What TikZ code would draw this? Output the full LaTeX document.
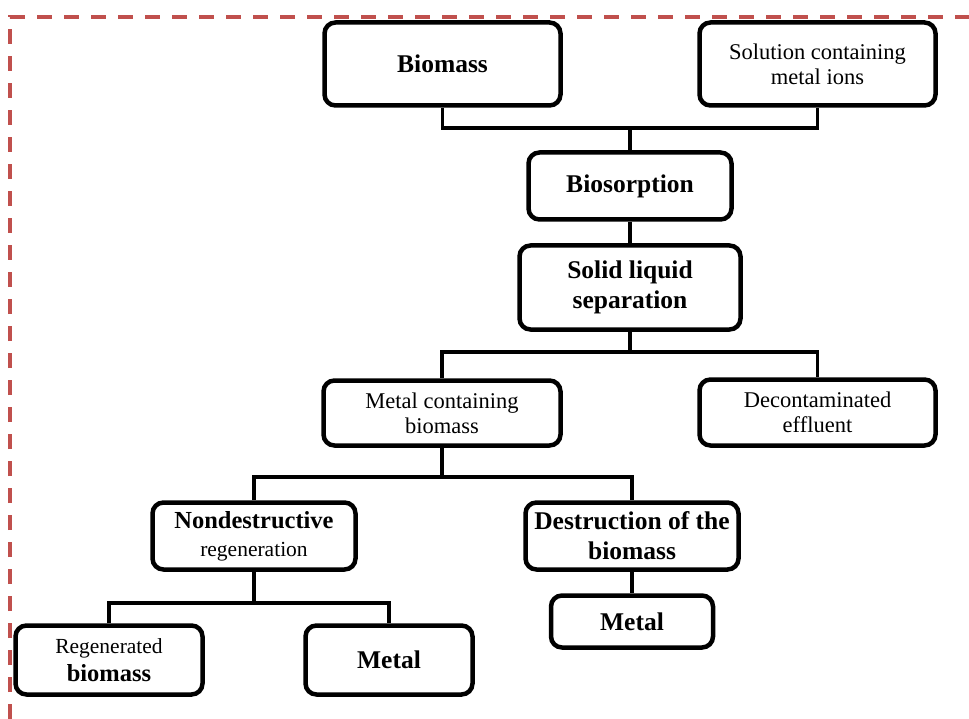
\documentclass[tikz,border=0pt]{standalone}
\usepackage{fontspec}
\setmainfont{Liberation Serif}
\begin{document}
\definecolor{dashred}{RGB}{192,80,77}
\begin{tikzpicture}[x=1pt,y=-1pt,
  box/.style={draw, line width=4.5pt, rounded corners=11pt, align=center, inner sep=0pt, fill=white},
  bt/.style={font=\fontsize{25.5}{30}\selectfont\bfseries},
  rt/.style={font=\fontsize{22.5}{25}\selectfont},
  mixed/.style={font=\fontsize{23}{28}\selectfont},
  conn/.style={line width=3.5pt},
  frame/.style={draw=dashred, line width=3.5pt, dash pattern=on 15pt off 12pt}]
\useasboundingbox (0,0) rectangle (969,719);
\path[frame] (10,719) -- (10,17) -- (969,17);

\node[box,bt,minimum width=236pt,minimum height=83pt] (biomass) at (442.5,64) {Biomass};
\node[box,rt,minimum width=236pt,minimum height=83pt] (solution) at (817.5,64) {Solution containing\\metal ions};
\node[box,bt,minimum width=203pt,minimum height=67pt] (biosorp) at (630,186) {Biosorption};
\node[box,bt,minimum width=221pt,minimum height=84pt] (solid) at (630,287.5) {Solid liquid\\separation};
\node[box,rt,minimum width=237pt,minimum height=65pt] (metalcont) at (442,413) {Metal containing\\biomass};
\node[box,rt,minimum width=236pt,minimum height=66pt] (decont) at (817.5,412.5) {Decontaminated\\effluent};
\node[box,mixed,minimum width=203pt,minimum height=67pt] (nondes) at (254,536) {{\fontsize{24.5}{28}\selectfont\bfseries Nondestructive}\\{\fontsize{21.5}{28}\selectfont regeneration}};
\node[box,bt,minimum width=213pt,minimum height=67pt] (destr) at (632,536) {Destruction of the\\biomass};
\node[box,bt,minimum width=162pt,minimum height=52pt] (metalB) at (632,621.5) {Metal};
\node[box,mixed,minimum width=187pt,minimum height=69pt] (regen) at (109,660) {{\fontsize{21.5}{28}\selectfont Regenerated}\\{\fontsize{24.5}{28}\selectfont\bfseries biomass}};
\node[box,bt,minimum width=167pt,minimum height=69pt] (metalA) at (389,660) {Metal};

\coordinate (j1) at (630,128);
\coordinate (j2) at (630,352);
\coordinate (j3) at (442,477);
\coordinate (j4) at (254,603);

\draw[conn] (biomass.south) |- (j1) -| (solution.south);
\draw[conn] (j1) -- (biosorp.north);
\draw[conn] (biosorp.south) -- (solid.north);
\draw[conn] (solid.south) -- (j2);
\draw[conn] (metalcont.north) |- (j2) -| (decont.north);
\draw[conn] (metalcont.south) -- (j3);
\draw[conn] (nondes.north) |- (j3) -| (destr.north);
\draw[conn] (nondes.south) -- (j4);
\draw[conn] (regen.north) |- (j4) -| (metalA.north);
\draw[conn] (destr.south) -- (metalB.north);
\end{tikzpicture}
\end{document}
